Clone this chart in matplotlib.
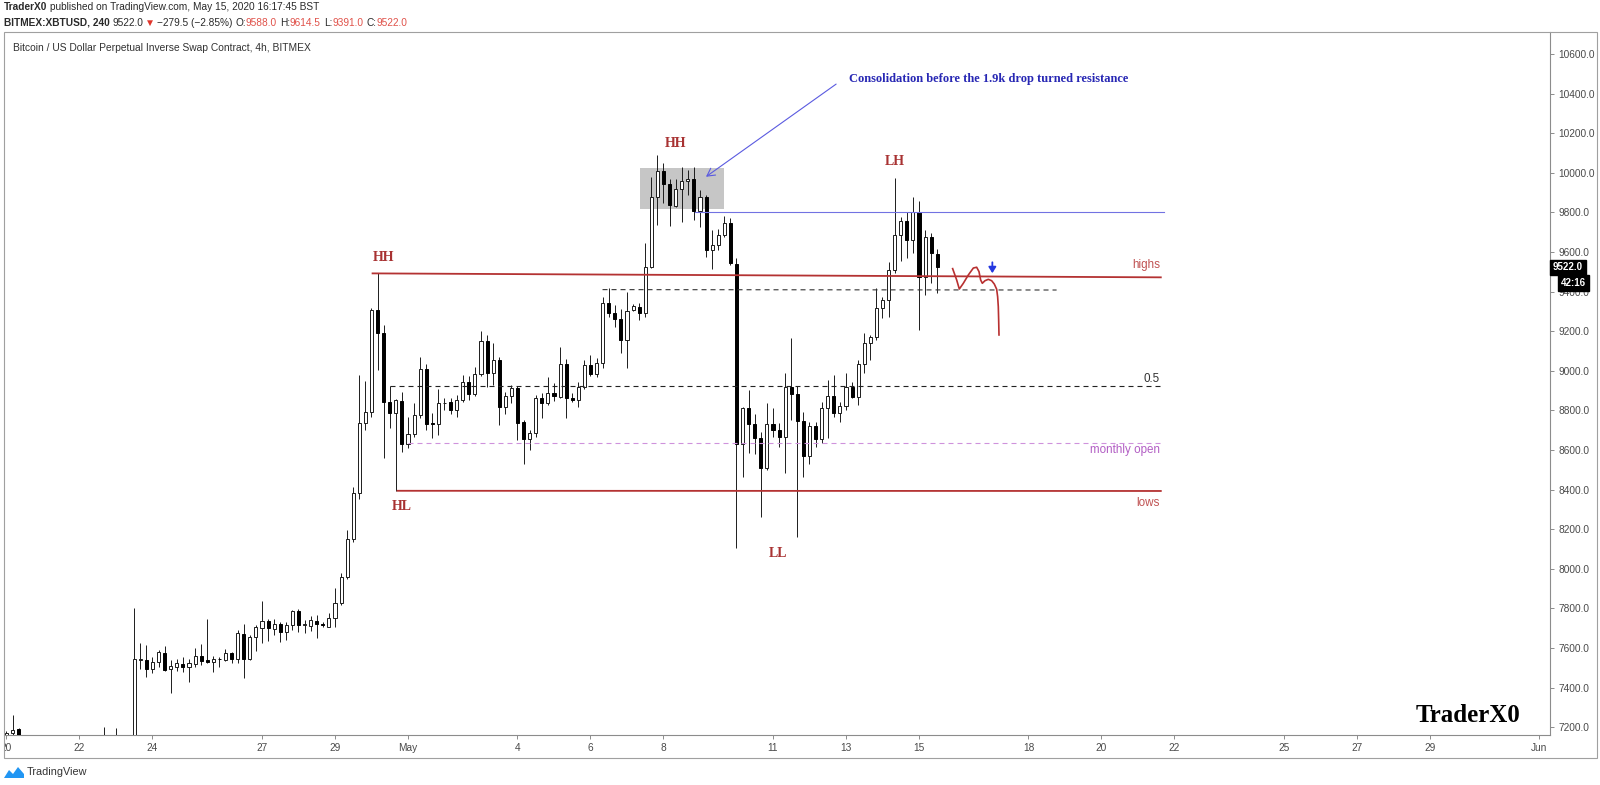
import matplotlib
matplotlib.use("Agg")
import matplotlib.pyplot as plt
import matplotlib.dates as mdates
import numpy as np
import pandas as pd
from matplotlib.patches import Rectangle, Polygon
from matplotlib.transforms import Bbox, TransformedBbox, blended_transform_factory

plt.rcParams['font.family'] = ['Liberation Sans', 'DejaVu Sans']

# ---------------- DATA ----------------
candle_start = "2020-04-20 00:00"
candle_freq = "4h"

opens = [7130, 7172, 7190, 7040, 6900, 6830, 6850, 6860, 6830, 6880, 6930, 6900, 6870, 6930, 6980, 7060, 7090, 7140, 7130, 7110, 7090,
         7120, 7540, 7539, 7492, 7529, 7576, 7492, 7505, 7521, 7502,
         7519, 7561, 7539, 7531, 7546, 7539, 7573, 7542, 7670, 7542,
         7654, 7703, 7738, 7698, 7719, 7679, 7716, 7788, 7714, 7711,
         7738, 7721, 7708, 7750, 7826, 7957, 8149, 8381, 8735, 8794,
         9307, 9193, 8844, 8789, 8849, 8629, 8679, 8777, 9009, 8738,
         8731, 8836, 8841, 8802, 8853, 8945, 8883, 8984, 9152, 8991,
         9055, 8816, 8873, 8911, 8741, 8654, 8684, 8861, 8839, 8886,
         8869, 9033, 8861, 8853, 8916, 9029, 8984, 9038, 9341, 9290,
         9260, 9156, 9307, 9324, 9290, 9526, 9880, 10011, 9943, 9833,
         9920, 9960, 9967, 9809, 9876, 9610, 9634, 9686, 9745, 9540,
         8630, 8810, 8731, 8659, 8507, 8731, 8701, 8664, 8920, 8883,
         8748, 8570, 8721, 8656, 8810, 8873, 8785, 8824, 8916, 8869,
         9034, 9142, 9169, 9316, 9358, 9509, 9686, 9758, 9661, 9804,
         9475, 9677, 9588]
highs = [7180, 7262, 7195, 7060, 6950, 6880, 6900, 6890, 6900, 6960, 6980, 6940, 6950, 7000, 7080, 7120, 7200, 7150, 7195, 7150, 7140,
         7800, 7623, 7615, 7556, 7590, 7610, 7539, 7544, 7556, 7546,
         7598, 7620, 7746, 7559, 7556, 7593, 7578, 7691, 7719, 7665,
         7716, 7839, 7744, 7744, 7733, 7733, 7792, 7795, 7741, 7761,
         7766, 7733, 7778, 7901, 7977, 8196, 8415, 8979, 8950, 9316,
         9492, 9231, 8923, 8856, 8895, 8768, 8836, 9068, 9034, 8785,
         8908, 8861, 8861, 8878, 8979, 8974, 9021, 9203, 9181, 9142,
         9068, 8895, 8928, 8923, 8752, 8701, 8878, 8890, 8970, 8937,
         9122, 9058, 8886, 8945, 9055, 9080, 9063, 9374, 9416, 9332,
         9310, 9400, 9335, 9341, 9644, 9980, 10090, 10048, 9967, 9967,
         10031, 10014, 10031, 9913, 9888, 9711, 9714, 9782, 9770, 9568,
         8819, 8903, 8782, 8693, 8836, 8810, 8735, 8987, 9164, 8923,
         8794, 8743, 8743, 8844, 8954, 8979, 8844, 8991, 8945, 9055,
         9193, 9181, 9417, 9375, 9551, 9972, 9775, 9804, 9880, 9859,
         9711, 9694, 9614.5]
lows = [7100, 7160, 7020, 6880, 6760, 6780, 6790, 6800, 6810, 6850, 6890, 6840, 6850, 6900, 6960, 7030, 7070, 7100, 7090, 7050, 7060,
        7100, 7492, 7455, 7472, 7506, 7485, 7374, 7484, 7480, 7426,
        7502, 7514, 7522, 7480, 7506, 7532, 7526, 7526, 7450, 7539,
        7586, 7623, 7637, 7665, 7632, 7640, 7691, 7680, 7674, 7687,
        7653, 7707, 7704, 7707, 7817, 7947, 8137, 8351, 8701, 8765,
        9004, 8558, 8710, 8395, 8592, 8609, 8667, 8760, 8701, 8659,
        8676, 8802, 8782, 8768, 8844, 8853, 8873, 8974, 8920, 8928,
        8726, 8782, 8836, 8651, 8529, 8600, 8667, 8760, 8827, 8849,
        8861, 8760, 8844, 8819, 8907, 8974, 8970, 9012, 9270, 9223,
        9088, 9013, 9300, 9257, 9273, 9518, 9737, 9846, 9731, 9829,
        9753, 9888, 9762, 9725, 9576, 9512, 9610, 9677, 9534, 8103,
        8466, 8583, 8580, 8260, 8499, 8667, 8617, 8482, 8752, 8159,
        8465, 8529, 8617, 8637, 8659, 8768, 8743, 8802, 8861, 8827,
        8987, 9055, 9156, 9265, 9273, 9492, 9556, 9568, 9597, 9206,
        9383, 9442, 9391]
closes = [7172, 7185, 7040, 6900, 6830, 6850, 6860, 6830, 6880, 6930, 6900, 6870, 6930, 6980, 7060, 7090, 7140, 7130, 7110, 7090, 7120,
          7542, 7545, 7492, 7531, 7579, 7489, 7509, 7522, 7504, 7522,
          7561, 7536, 7531, 7546, 7543, 7573, 7546, 7677, 7546, 7657,
          7706, 7738, 7699, 7721, 7679, 7714, 7788, 7714, 7719, 7741,
          7721, 7718, 7750, 7826, 7960, 8149, 8381, 8735, 8794, 9307,
          9193, 8844, 8789, 8853, 8629, 8679, 8777, 9009, 8731, 8731,
          8836, 8839, 8802, 8853, 8945, 8883, 8984, 9152, 8991, 9055,
          8816, 8873, 8911, 8738, 8654, 8684, 8861, 8839, 8886, 8873,
          9033, 8861, 8853, 8916, 9029, 8984, 9038, 9341, 9290, 9260,
          9155, 9304, 9327, 9290, 9526, 9880, 10011, 9943, 9836, 9920,
          9960, 9967, 9809, 9876, 9610, 9634, 9686, 9745, 9543, 8630,
          8810, 8731, 8659, 8507, 8731, 8701, 8664, 8920, 8883, 8748,
          8570, 8721, 8656, 8810, 8873, 8785, 8824, 8916, 8869, 9034,
          9142, 9169, 9316, 9358, 9509, 9686, 9758, 9661, 9804, 9475,
          9677, 9593, 9522]

price_ticks = [7200, 7400, 7600, 7800, 8000, 8200, 8400, 8600, 8800, 9000,
               9200, 9400, 9600, 9800, 10000, 10200, 10400, 10600]
date_ticks = ["2020-04-20", "2020-04-22", "2020-04-24", "2020-04-27", "2020-04-29",
              "2020-05-01", "2020-05-04", "2020-05-06", "2020-05-08", "2020-05-11",
              "2020-05-13", "2020-05-15", "2020-05-18", "2020-05-20", "2020-05-22",
              "2020-05-25", "2020-05-27", "2020-05-29", "2020-06-01"]
date_labels = ["20", "22", "24", "27", "29", "May", "4", "6", "8", "11", "13", "15",
               "18", "20", "22", "25", "27", "29", "Jun"]

# drawn levels: (start day offset from May 1, end offset, start price, end price)
highs_line = (-0.995, 20.65, 9492, 9472)
lows_line = (-0.31, 20.65, 8394, 8393)
fib_half_line = (-0.49, 20.65, 8923, 8923)
monthly_open_line = (0.0, 20.65, 8637, 8637)
level_9410_line = (5.33, 17.77, 9410, 9408)
resistance_line = (7.86, 20.70, 9804, 9804)
consol_box = (6.356, 8.666, 9817, 10026)
arrow_tail = (11.73, 10448)
arrow_head = (8.164, 9980)
structure_labels = ["HH", "HH", "LH", "HL", "LL"]
structure_days = [-0.658, 7.342, 13.342, -0.164, 10.137]
structure_prices = [9570, 10150, 10055, 8317, 8075]
squiggle_days = [14.922, 15.032, 15.105, 15.215, 15.352, 15.489, 15.580, 15.644, 15.689,
                 15.735, 15.808, 15.899, 15.991, 16.064, 16.128, 16.155, 16.173, 16.183, 16.192]
squiggle_prices = [9516, 9459, 9413, 9442, 9484, 9519, 9523, 9501, 9459,
                   9442, 9455, 9462, 9455, 9438, 9412, 9374, 9324, 9257, 9181]
small_arrow = (16.01, 9548, 9493)

# ---------------- FIGURE ----------------
W, H = 1600, 785
fig = plt.figure(figsize=(W / 100, H / 100), dpi=100)
fig.patch.set_facecolor("white")

ax_left, ax_right, ax_top, ax_bottom = 4, 1550, 32.3, 735
ax = fig.add_axes([ax_left / W, 1 - ax_bottom / H, (ax_right - ax_left) / W, (ax_bottom - ax_top) / H])

may1 = mdates.date2num(np.datetime64("2020-05-01T00:00"))


def T(d):
    return may1 + d


times = pd.date_range(candle_start, periods=len(opens), freq=candle_freq)
xs = mdates.date2num(times.values)
o = np.array(opens, float)
h = np.array(highs, float)
l = np.array(lows, float)
c = np.array(closes, float)
up = c >= o

ax.vlines(xs, l, h, color="#1c1c1c", lw=0.7, zorder=3)
bw = 0.5 / 6
body_bottom = np.minimum(o, c)
body_h = np.maximum(np.abs(c - o), 2.0)
ax.bar(xs[up], body_h[up], bottom=body_bottom[up], width=bw, facecolor="white",
       edgecolor="#1c1c1c", lw=0.7, zorder=4)
ax.bar(xs[~up], body_h[~up], bottom=body_bottom[~up], width=bw, facecolor="black",
       edgecolor="black", lw=0.7, zorder=4)

ax.set_xlim(T(-11.068), T(31.288))
ax.set_ylim(7160.6, 10709.6)

# consolidation box
x0, x1, y0, y1 = consol_box
ax.add_patch(Rectangle((T(x0), y0), x1 - x0, y1 - y0, facecolor="#c6c6c6", edgecolor="none", zorder=1))


def seg(line, **kw):
    d0, d1, p0, p1 = line
    ax.plot([T(d0), T(d1)], [p0, p1], **kw)


seg(highs_line, color="#b43232", lw=1.3, zorder=5, solid_capstyle="butt")
seg(lows_line, color="#b43232", lw=1.3, zorder=5, solid_capstyle="butt")
seg(fib_half_line, color="#222222", lw=0.8, ls=(0, (4.5, 3.6)), zorder=5)
seg(monthly_open_line, color="#cf92dc", lw=0.8, ls=(0, (4.5, 3.6)), zorder=5)
seg(level_9410_line, color="#333333", lw=0.8, ls=(0, (4.5, 3.6)), zorder=5)
seg(resistance_line, color="#7272e2", lw=0.8, zorder=5)

ax.plot([T(d) for d in squiggle_days], squiggle_prices, color="#b83030", lw=1.2, zorder=6)

ax.annotate("", xy=(T(arrow_head[0]), arrow_head[1]), xytext=(T(arrow_tail[0]), arrow_tail[1]),
            arrowprops=dict(arrowstyle="->,head_length=0.55,head_width=0.3", color="#5a5ae0", lw=0.8,
                            shrinkA=0, shrinkB=0), zorder=6)
ax.annotate("", xy=(T(small_arrow[0]), small_arrow[2]), xytext=(T(small_arrow[0]), small_arrow[1]),
            arrowprops=dict(arrowstyle="-|>,head_length=0.35,head_width=0.22", color="#2438e0", lw=1.3,
                            shrinkA=0, shrinkB=0), zorder=6)

ax.text(T(12.08), 10474, "Consolidation before the 1.9k drop turned resistance", color="#2828b4",
        fontsize=9, fontweight="bold", family="Liberation Serif", ha="left", va="center", zorder=7)

for lab, d, p in zip(structure_labels, structure_days, structure_prices):
    ax.text(T(d), p, lab, color="#a83232", fontsize=10, fontweight="bold", family="Liberation Serif",
            ha="center", va="center", zorder=7)

ax.text(T(20.6), 9532, "highs", color="#c05252", fontsize=8.4, ha="right", va="center", zorder=7)
ax.text(T(20.6), 8332, "lows", color="#c05252", fontsize=8.4, ha="right", va="center", zorder=7)
ax.text(T(20.6), 8959, "0.5", color="#333333", fontsize=8.4, ha="right", va="center", zorder=7)
ax.text(T(20.6), 8600, "monthly open", color="#b25ec4", fontsize=8.4, ha="right", va="center", zorder=7)

ax.text(0.0056, 0.978, "Bitcoin / US Dollar Perpetual Inverse Swap Contract, 4h, BITMEX",
        transform=ax.transAxes, fontsize=7.4, color="#333333", ha="left", va="center")

# axes styling
for s in ["left", "top"]:
    ax.spines[s].set_visible(False)
for s in ["right", "bottom"]:
    ax.spines[s].set_color("#8c8c8c")
    ax.spines[s].set_linewidth(0.8)
ax.yaxis.tick_right()
ax.set_yticks(price_ticks)
ax.set_yticklabels([f"{p:.1f}" for p in price_ticks])
ax.set_xticks([mdates.date2num(np.datetime64(d)) for d in date_ticks])
ax.set_xticklabels(date_labels)
ax.tick_params(axis="y", length=3, width=0.7, color="#8c8c8c", labelcolor="#4a4a4a", labelsize=7.3, pad=3)
ax.tick_params(axis="x", length=3, width=0.7, color="#8c8c8c", labelcolor="#4a4a4a", labelsize=7.3, pad=3)
clipbb = TransformedBbox(Bbox.from_extents(ax_left / W, 0, 1, 1), fig.transFigure)
for lbl in ax.get_xticklabels():
    lbl.set_clip_box(clipbb)
    lbl.set_clip_on(True)

# last price markers
bt = blended_transform_factory(ax.transAxes, ax.transData)
ax.text(1.002, c[-1], f"{c[-1]:.1f}", transform=bt, color="white", fontsize=7.0, fontweight="bold",
        ha="left", va="center", zorder=10,
        bbox=dict(boxstyle="square,pad=0.3", fc="black", ec="black"), clip_on=False)
ax.annotate("42:16", xy=(1.007, c[-1]), xycoords=bt, xytext=(0, -11), textcoords="offset points",
            color="white", fontsize=7.0, fontweight="bold", ha="left", va="center",
            bbox=dict(boxstyle="square,pad=0.3", fc="black", ec="black"), annotation_clip=False, zorder=10)

# outer chart box
fig.patches.append(Rectangle((4 / W, 1 - 757.7 / H), (1597 - 4) / W, (757.7 - 32.3) / H,
                             transform=fig.transFigure, fill=False, edgecolor="#a0a0a0", lw=0.8))

# watermark
fig.text(1468 / W, 1 - 716 / H, "TraderX0", fontsize=18, fontweight="bold", family="Liberation Serif",
         color="black", ha="center", va="center")

# header lines
fig.canvas.draw()
rend = fig.canvas.get_renderer()


def seq(pieces, x0, y, size):
    x = x0
    for txt, col, wt, gap in pieces:
        t = fig.text(x / W, 1 - y / H, txt, color=col, fontsize=size, fontweight=wt, ha="left", va="center")
        x += t.get_window_extent(renderer=rend).width + gap


dark = "#2a2a2a"
red = "#e0524a"
seq([("TraderX0", dark, "bold", 3), ("published on TradingView.com, May 15, 2020 16:17:45 BST", dark, "normal", 0)],
    4, 7.5, 7.3)
seq([("BITMEX:XBTUSD, 240", dark, "bold", 3), ("9522.0", dark, "normal", 1), ("\u25bc", "#e0352b", "normal", 2),
     ("\u2212279.5 (\u22122.85%)", dark, "normal", 3),
     ("O:", dark, "normal", 0), ("9588.0", red, "normal", 3),
     ("H:", dark, "normal", 0), ("9614.5", red, "normal", 3),
     ("L:", dark, "normal", 0), ("9391.0", red, "normal", 3),
     ("C:", dark, "normal", 0), ("9522.0", red, "normal", 0)], 4, 22.7, 7.3)

# TradingView footer logo
logo = [(4, 778), (9, 770), (13, 774), (18, 767), (24, 774), (24, 778)]
fig.patches.append(Polygon([(px / W, 1 - py / H) for px, py in logo], closed=True,
                           transform=fig.transFigure, facecolor="#2196f3", edgecolor="none"))
fig.text(27 / W, 1 - 772 / H, "TradingView", fontsize=7.8, color="#333333", ha="left", va="center")

fig.savefig("out.png", dpi=100, facecolor="white")
